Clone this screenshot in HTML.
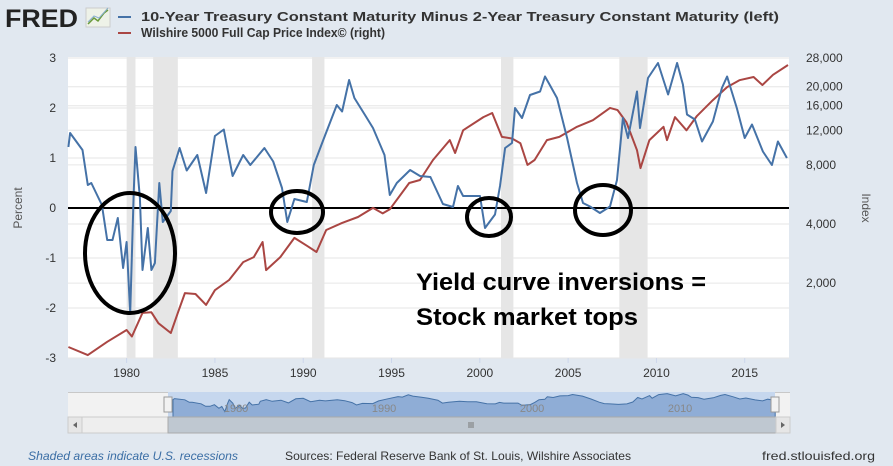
<!DOCTYPE html>
<html><head><meta charset="utf-8"><style>
html,body{margin:0;padding:0;background:#e1e8f0;}
svg{display:block;font-family:"Liberation Sans",sans-serif;}
</style></head><body>
<svg id="chart" width="893" height="466" viewBox="0 0 893 466" xmlns="http://www.w3.org/2000/svg">
<rect x="0" y="0" width="893" height="466" fill="#e1e8f0"/>
<g>
<text x="5" y="27" font-size="25" font-weight="bold" fill="#222" textLength="73" lengthAdjust="spacingAndGlyphs">FRED</text>
<rect x="86" y="8" width="24" height="19" fill="#eef2e8" stroke="#ccc"/>
<polyline points="88,24 94,18 98,21 104,13 108,10" fill="none" stroke="#6a9a3a" stroke-width="1.5"/>
<polyline points="88,22 94,16 99,18 108,8" fill="none" stroke="#8ab0d0" stroke-width="1"/>
</g>
<g>
<line x1="118" y1="17" x2="131" y2="17" stroke="#4572a7" stroke-width="2"/>
<text x="141" y="21" font-size="13" font-weight="bold" fill="#333" textLength="638" lengthAdjust="spacingAndGlyphs">10-Year Treasury Constant Maturity Minus 2-Year Treasury Constant Maturity (left)</text>
<line x1="118" y1="33" x2="131" y2="33" stroke="#aa4643" stroke-width="2"/>
<text x="141" y="37" font-size="13" font-weight="bold" fill="#333" textLength="244" lengthAdjust="spacingAndGlyphs">Wilshire 5000 Full Cap Price Index© (right)</text>
</g>
<rect x="68" y="57" width="721" height="301" fill="#fff"/>
<g id="recessions"></g>
<g id="grid"></g>
<g id="axes"></g>
<g id="series"></g>
<g>
<ellipse cx="130" cy="253" rx="45" ry="60" fill="none" stroke="#000" stroke-width="4"/>
<ellipse cx="297" cy="212" rx="26" ry="21" fill="none" stroke="#000" stroke-width="4"/>
<ellipse cx="489" cy="217" rx="22" ry="19" fill="none" stroke="#000" stroke-width="4"/>
<ellipse cx="603" cy="210" rx="28" ry="25" fill="none" stroke="#000" stroke-width="4"/>
<text x="416" y="290" font-size="24" font-weight="bold" fill="#000" textLength="290" lengthAdjust="spacingAndGlyphs">Yield curve inversions =</text>
<text x="416" y="325" font-size="24" font-weight="bold" fill="#000" textLength="222" lengthAdjust="spacingAndGlyphs">Stock market tops</text>
</g>
<g id="navigator">
<rect x="68" y="392" width="722" height="25" fill="#f2f2f2"/>
<line x1="68" y1="392.5" x2="790" y2="392.5" stroke="#c8c8c8"/>
<rect x="168" y="392" width="607" height="25" fill="#c6d7ee"/>
</g>
<g>
<rect x="68" y="417" width="722" height="16" fill="#eeeeee" stroke="#ccc"/>
<rect x="168" y="417" width="608" height="16" fill="#bfc8d1" stroke="#aaa"/>
<rect x="68" y="417" width="14" height="16" fill="#e6e6e6" stroke="#ccc"/>
<path d="M77,422 L73,425 L77,428Z" fill="#666"/>
<rect x="776" y="417" width="14" height="16" fill="#e6e6e6" stroke="#ccc"/>
<path d="M781,422 L785,425 L781,428Z" fill="#666"/>
<path d="M469,422v6M471,422v6M473,422v6" stroke="#777"/>
</g>
<g>
<text x="28" y="460" font-size="12" font-style="italic" fill="#3b6ea5" textLength="210" lengthAdjust="spacingAndGlyphs">Shaded areas indicate U.S. recessions</text>
<text x="285" y="460" font-size="12" fill="#333" textLength="346" lengthAdjust="spacingAndGlyphs">Sources: Federal Reserve Bank of St. Louis, Wilshire Associates</text>
<text x="762" y="460" font-size="12" fill="#333" textLength="113" lengthAdjust="spacingAndGlyphs">fred.stlouisfed.org</text>
</g>
</svg>
<script>
const spreadYears=[1976.7,1976.8,1977.5,1977.8,1978.0,1978.6,1978.9,1979.2,1979.5,1979.8,1980.0,1980.2,1980.4,1980.5,1980.75,1980.9,1981.2,1981.4,1981.6,1981.85,1982.05,1982.5,1982.6,1983.0,1983.4,1984.0,1984.5,1985.0,1985.5,1986.0,1986.6,1987.0,1987.8,1988.3,1988.8,1989.1,1989.5,1990.2,1990.6,1991.1,1991.9,1992.2,1992.6,1992.9,1993.5,1993.95,1994.6,1994.9,1995.3,1996.05,1996.61,1997.2,1997.91,1998.48,1998.76,1999.05,2000.01,2000.29,2000.86,2001.14,2001.43,2001.82,2001.99,2002.39,2002.84,2003.41,2003.69,2003.9,2004.37,2004.94,2005.5,2005.84,2006.24,2006.8,2007.37,2007.77,2008.1,2008.39,2008.9,2009.07,2009.52,2010.09,2010.66,2011.17,2011.5,2011.73,2012.18,2012.58,2013.2,2013.71,2014.0,2014.55,2015.0,2015.41,2016.03,2016.54,2016.88,2017.39];
const spreadValues=[1.22,1.5,1.16,0.46,0.5,0.06,-0.64,-0.64,-0.2,-1.2,-0.68,-2.1,0.3,1.22,0.2,-1.24,-0.4,-1.24,-1.1,0.5,-0.28,-0.06,0.74,1.2,0.75,1.06,0.3,1.44,1.57,0.64,1.06,0.86,1.2,0.93,0.4,-0.28,0.18,0.12,0.86,1.33,2.06,1.93,2.56,2.2,1.86,1.6,1.06,0.26,0.5,0.76,0.64,0.62,0.08,0.02,0.44,0.24,0.24,-0.4,-0.13,0.44,1.2,1.3,2.0,1.8,2.26,2.33,2.63,2.5,2.2,1.4,0.5,0.1,0.03,-0.1,0.03,0.56,1.8,1.4,2.33,1.6,2.6,2.9,2.27,2.9,2.47,1.87,1.77,1.33,1.73,2.4,2.63,2.0,1.4,1.67,1.13,0.86,1.33,1.0];
const wilYears=[1976.7,1977.8,1978.9,1980.0,1980.3,1980.9,1981.4,1981.8,1982.5,1982.9,1983.3,1983.9,1984.5,1985.0,1985.8,1986.6,1987.2,1987.7,1987.9,1988.7,1989.5,1990.2,1990.75,1991.3,1992.2,1993.1,1993.95,1994.5,1994.9,1996.0,1996.61,1997.35,1998.3,1998.6,1999.05,2000.2,2000.7,2001.25,2001.82,2002.3,2002.7,2003.1,2003.8,2004.5,2005.5,2006.4,2007.37,2007.8,2008.3,2008.9,2009.1,2009.6,2010.4,2010.6,2011.05,2011.7,2012.3,2013.2,2014.0,2014.7,2015.5,2016.0,2016.6,2017.45];
const wilValues=[946,860,1005,1155,1070,1410,1420,1250,1115,1410,1780,1760,1550,1840,2075,2560,2715,3240,2330,2715,3400,3100,2880,3730,4050,4340,4830,4530,4750,6470,6700,8470,10700,9200,12000,14000,14700,11100,10900,10300,8000,8470,10700,11100,12500,13500,15600,15200,13200,9500,7700,10700,12500,10700,14000,12000,14200,17100,19900,21600,22400,20400,23000,25800];
const recessionStarts=[1980.0,1981.5,1990.5,2001.2,2007.9];
const recessionEnds=[1980.5,1982.9,1991.2,2001.9,2009.5];
const leftTicks=[3,2,1,0,-1,-2,-3];
const rightTicks=[28000,20000,16000,12000,8000,4000,2000];
const rightTickLabels=["28,000","20,000","16,000","12,000","8,000","4,000","2,000"];
const xTicks=[1980,1985,1990,1995,2000,2005,2010,2015];
const navTicks=[1980,1990,2000,2010];

const NS="http://www.w3.org/2000/svg";
const X0=68,X1=789,T0=1976.68,PX=17.66;
const xS=y=>X0+(y-T0)*PX;
const yL=v=>208-v*50;
const yR=v=>224-Math.log(v/4000)*85.3;
const nx=y=>173+(y-1976.7)*14.8;
const ny=v=>404-v*3.6;
function mk(tag,attrs,parent){const e=document.createElementNS(NS,tag);for(const k in attrs)e.setAttribute(k,attrs[k]);parent.appendChild(e);return e;}
const rec=document.getElementById('recessions');
recessionStarts.forEach((s,i)=>{
 const r=mk('rect',{x:xS(s),y:57,width:xS(recessionEnds[i])-xS(s),height:301,fill:'#e6e6e6'},rec);
 
 
});
const grid=document.getElementById('grid');
leftTicks.forEach(v=>{const l=mk('line',{x1:X0,x2:X1,y1:yL(v),y2:yL(v),stroke:'#e6e6e6'},grid);
 
 });
rightTicks.forEach(v=>{const l=mk('line',{x1:X0,x2:X1,y1:yR(v),y2:yR(v),stroke:'#e6e6e6'},grid);
 
 });
const ax=document.getElementById('axes');
leftTicks.forEach(v=>{const t=mk('text',{x:56,y:yL(v)+4,'font-size':12,fill:'#333','text-anchor':'end'},ax);t.textContent=v;
 
 });
rightTicks.forEach((v,i)=>{const t=mk('text',{x:806,y:yR(v)+4,'font-size':12,fill:'#333'},ax);t.textContent=rightTickLabels[i];
 
 });
xTicks.forEach(v=>{const t=mk('text',{x:xS(v),y:377,'font-size':12,fill:'#333','text-anchor':'middle'},ax);t.textContent=v;
 
 
 const k=mk('line',{x1:xS(v),x2:xS(v),y1:358,y2:363,stroke:'#ccd6eb'},ax);
 
 });
const yt=mk('text',{x:0,y:0,'font-size':12,fill:'#555','text-anchor':'middle',transform:'translate(22,208) rotate(-90)'},ax);yt.textContent='Percent';


const yt2=mk('text',{x:0,y:0,'font-size':12,fill:'#555','text-anchor':'middle',transform:'translate(862,208) rotate(90)'},ax);yt2.textContent='Index';


const ser=document.getElementById('series');
const zl=mk('line',{x1:X0,x2:X1,y1:yL(0),y2:yL(0),stroke:'#000','stroke-width':2},ser);


const wp=mk('polyline',{points:wilYears.map((y,i)=>xS(y).toFixed(1)+','+yR(wilValues[i]).toFixed(1)).join(' '),fill:'none',stroke:'#aa4643','stroke-width':2,'stroke-linejoin':'round'},ser);


const sp=mk('polyline',{points:spreadYears.map((y,i)=>xS(y).toFixed(1)+','+yL(spreadValues[i]).toFixed(1)).join(' '),fill:'none',stroke:'#4572a7','stroke-width':2,'stroke-linejoin':'round'},ser);


const nav=document.getElementById('navigator');
const pts=spreadYears.map((y,i)=>nx(y).toFixed(1)+','+ny(spreadValues[i]).toFixed(1));
const area=mk('polygon',{points:nx(spreadYears[0]).toFixed(1)+',417 '+pts.join(' ')+' '+nx(spreadYears[spreadYears.length-1]).toFixed(1)+',417',fill:'#8fadd6',stroke:'#4572a7','stroke-width':1},nav);


navTicks.forEach(v=>{const t=mk('text',{x:nx(v)+2,y:412,'font-size':11,fill:'#888'},nav);t.textContent=v;
 
 });
[168,775].forEach(x=>{const h=mk('rect',{x:x-4,y:397,width:8,height:15,fill:'#f2f2f2',stroke:'#999'},nav);
 
 });
</script>
</body></html>
